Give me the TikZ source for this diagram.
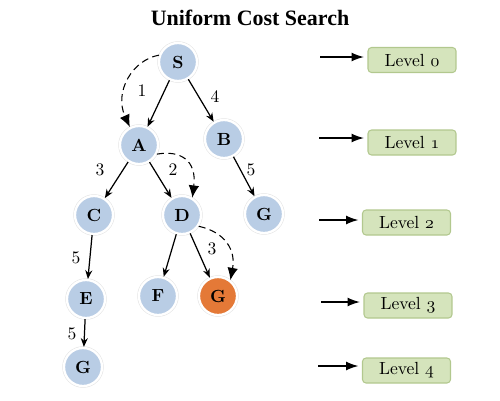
\documentclass[tikz,border=0pt]{standalone}
\usepackage{fontspec}
\newfontfamily\titlefont{Liberation Serif}
\usetikzlibrary{arrows.meta}
\definecolor{nodeblue}{RGB}{185,205,229}
\definecolor{nodeorange}{RGB}{228,121,55}
\definecolor{lvlfill}{RGB}{213,228,188}
\definecolor{lvldraw}{RGB}{178,200,142}
\newcommand{\osn}[1]{{\usefont{OML}{cmm}{m}{it}#1}}
\begin{document}
\begin{tikzpicture}[x=0.02cm,y=0.02cm,
 tnode/.style={circle, minimum size=0.76cm, inner sep=0pt, fill=nodeblue, draw=white, line width=1.3pt, preaction={draw=black!10, line width=2.0pt}, font=\bfseries},
 goal/.style={tnode, fill=nodeorange},
 tedge/.style={-{Stealth[length=5pt,width=4pt]}, line width=0.7pt},
 ucs/.style={dash pattern=on 4pt off 2.5pt, -{Latex[length=7pt,width=6pt]}, line width=0.6pt},
 lvl/.style={rounded corners=2pt, fill=lvlfill, draw=lvldraw, line width=0.6pt, minimum width=1.76cm, minimum height=0.5cm, inner sep=0pt},
 lvlarrow/.style={-{Latex[length=7pt,width=5pt]}, line width=0.8pt, shorten >=2pt},
 num/.style={inner sep=0pt}]
\useasboundingbox (0,0) rectangle (500,400);
\node (title) at (250,382) {\titlefont\bfseries\fontsize{12.5}{15}\selectfont Uniform Cost Search};
% tree nodes
\node[tnode] (S) at (178,338) {S};
\node[tnode] (A) at (139,255) {A};
\node[tnode] (B) at (224,261) {B};
\node[tnode] (C) at (94,185) {C};
\node[tnode] (D) at (182,185) {D};
\node[tnode] (G1) at (264,186) {G};
\node[tnode] (E) at (86,101) {E};
\node[tnode] (F) at (158,104) {F};
\node[goal] (G2) at (218,104) {G};
\node[tnode] (G3) at (83,33) {G};
% edges
\draw[tedge] (S) -- (A);
\draw[tedge] (S) -- (B);
\draw[tedge] (A) -- (C);
\draw[tedge] (A) -- (D);
\draw[tedge] (B) -- (G1);
\draw[tedge] (C) -- (E);
\draw[tedge] (D) -- (F);
\draw[tedge] (D) -- (G2);
\draw[tedge] (E) -- (G3);
% costs
\node[num] (c1) at (142,309) {1};
\node[num] (c2) at (215,303) {4};
\node[num] (c3) at (100,230) {3};
\node[num] (c4) at (173,230) {2};
\node[num] (c5) at (251,230) {5};
\node[num] (c6) at (76,142) {5};
\node[num] (c7) at (212,151) {3};
\node[num] (c8) at (72,66) {5};
% search path
\draw[ucs] (S.160) .. controls (132,340) and (114,308) .. (A.117);
\draw[ucs] (A.-27) .. controls (180,250) and (197,240) .. (D.59);
\draw[ucs] (D.-34) .. controls (225,168) and (236,150) .. (G2.52);
% levels
\node[lvl] (L0) at (412,340) {Level \osn{0}};
\node[lvl] (L1) at (412,257.5) {Level \osn{1}};
\node[lvl] (L2) at (406.5,177.5) {Level \osn{2}};
\node[lvl] (L3) at (408,94.5) {Level \osn{3}};
\node[lvl] (L4) at (406.5,29.5) {Level \osn{4}};
\coordinate (a0) at (320,343);
\coordinate (a1) at (319,262);
\coordinate (a2) at (319,180);
\coordinate (a3) at (321,98);
\coordinate (a4) at (318,34);
\draw[lvlarrow] (a0) -- (a0 -| L0.west);
\draw[lvlarrow] (a1) -- (a1 -| L1.west);
\draw[lvlarrow] (a2) -- (a2 -| L2.west);
\draw[lvlarrow] (a3) -- (a3 -| L3.west);
\draw[lvlarrow] (a4) -- (a4 -| L4.west);
\end{tikzpicture}
\end{document}
